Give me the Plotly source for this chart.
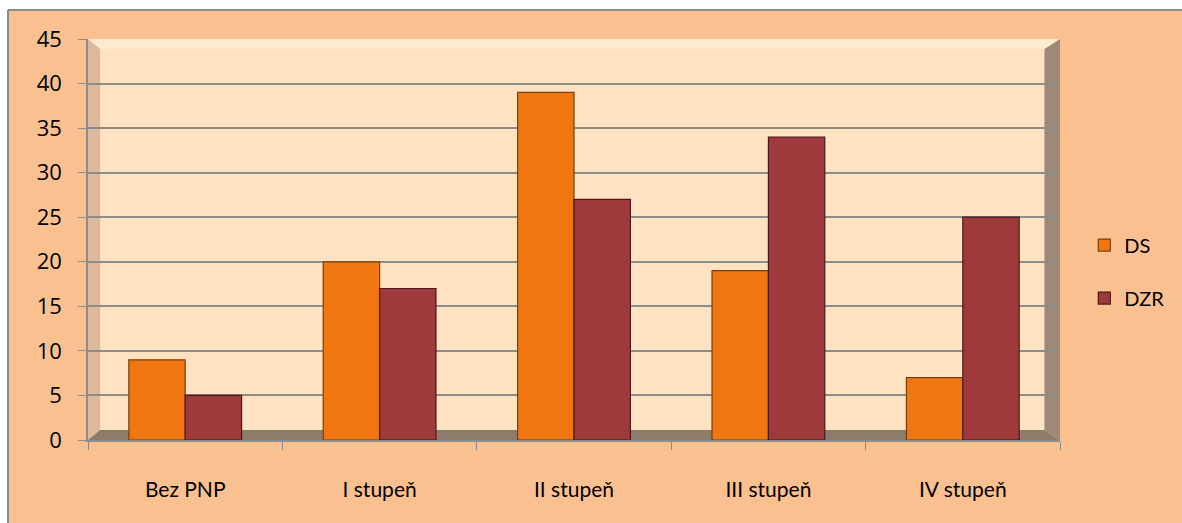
import plotly.graph_objects as go

categories = ["Bez PNP", "I stupeň", "II stupeň", "III stupeň", "IV stupeň"]
ds_values = [9, 20, 39, 19, 7]
dzr_values = [5, 17, 27, 34, 25]
y_ticks = [0, 5, 10, 15, 20, 25, 30, 35, 40, 45]

fig = go.Figure()
fig.add_trace(go.Bar(name="DS", x=categories, y=ds_values, legendgroup="a",
                     marker=dict(color="#F07612", line=dict(color="#7A400C", width=1.2))))
fig.add_trace(go.Bar(name="DZR", x=categories, y=dzr_values, legendgroup="b",
                     marker=dict(color="#9E3A3B", line=dict(color="#4A1A1A", width=1.2))))

shapes = [
    dict(type="rect", xref="paper", yref="paper", x0=-0.2, x1=1.3, y0=1.0723, y1=1.2,
         fillcolor="white", line=dict(width=0), layer="below"),
    dict(type="rect", xref="paper", yref="paper", x0=-0.2, x1=-0.0823, y0=-0.3, y1=1.2,
         fillcolor="white", line=dict(width=0), layer="below"),
    dict(type="line", xref="paper", yref="paper", x0=-0.0823, x1=1.3, y0=1.0723, y1=1.0723,
         line=dict(color="#8C8C8C", width=2), layer="below"),
    dict(type="line", xref="paper", yref="paper", x0=-0.0823, x1=-0.0823, y0=-0.3, y1=1.0723,
         line=dict(color="#8C8C8C", width=2), layer="below"),
    dict(type="rect", xref="paper", yref="paper", x0=0, x1=1, y0=0.975, y1=1,
         fillcolor="#FEEACF", line=dict(width=0), layer="below"),
    dict(type="path", xref="paper", yref="paper",
         path="M 0 0 L 0.0125 0.025 L 0.0125 0.975 L 0 1 Z",
         fillcolor="#DDB89C", line=dict(width=0), layer="below"),
    dict(type="path", xref="paper", yref="paper",
         path="M 0.984 0.025 L 1 0 L 1 1 L 0.984 0.975 Z",
         fillcolor="#9E8878", line=dict(width=0), layer="below"),
    dict(type="path", xref="paper", yref="paper",
         path="M 0 0 L 0.0125 0.025 L 0.984 0.025 L 1 0 Z",
         fillcolor="#8D7C6C", line=dict(width=0), layer="below"),
]

fig.update_layout(
    width=1182, height=523,
    margin=dict(l=88, r=122, t=39, b=83),
    paper_bgcolor="#FAC090",
    plot_bgcolor="#FEE2C2",
    barmode="group", bargap=0.42, bargroupgap=0,
    shapes=shapes,
    font=dict(family="Lato, Open Sans, sans-serif", color="black"),
    legend=dict(x=1.025, y=0.42, xanchor="left", yanchor="middle",
                bgcolor="rgba(0,0,0,0)", font=dict(size=20, family="Lato"),
                tracegroupgap=24, itemwidth=30),
    showlegend=True,
)
fig.update_yaxes(range=[0, 45], tickvals=y_ticks, showgrid=True, gridcolor="#8C8C8C",
                 gridwidth=1.5, showline=True, linecolor="#8C8C8C", linewidth=1.5,
                 ticks="outside", ticklen=8, tickcolor="#8C8C8C",
                 tickfont=dict(size=22, family="Open Sans"), ticklabelstandoff=12,
                 zeroline=False)
fig.update_xaxes(showline=True, linecolor="#8C8C8C", linewidth=1.5, ticks="outside",
                 tickson="boundaries", ticklen=8, tickcolor="#8C8C8C",
                 tickfont=dict(size=21, family="Lato"), ticklabelstandoff=30)

fig.write_html("out.html", config={"displayModeBar": False},
               post_script="document.body.style.margin='0';")
